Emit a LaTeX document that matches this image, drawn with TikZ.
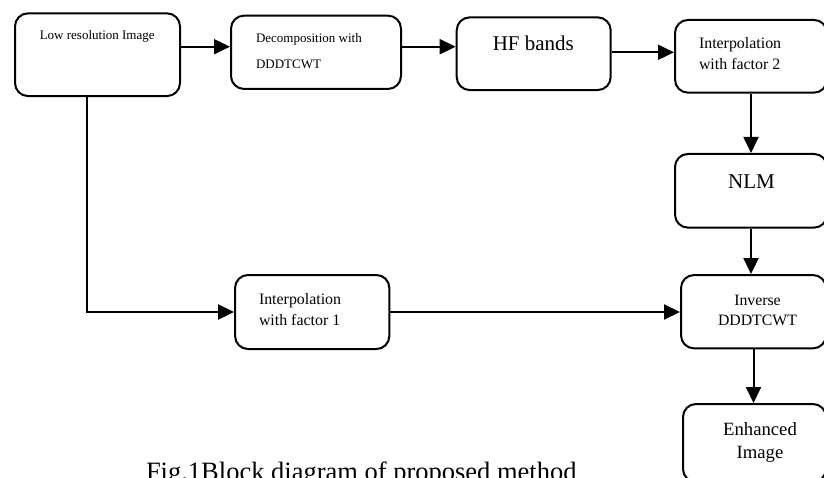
\documentclass[tikz,border=0pt]{standalone}
\usepackage{fontspec}
\setmainfont{Liberation Serif}
\usetikzlibrary{positioning, arrows.meta}

\begin{document}
\begin{tikzpicture}[x = 1pt, y = -1pt, line width = 2pt,
        block/.style = {shape = rectangle, draw = black, rounded corners = 13pt, inner sep = 0pt},
        txt/.style = {inner sep = 0pt, anchor = base, align = center},
        txtl/.style = {inner sep = 0pt, anchor = base west, align = left},
        >={Triangle[length = 16pt, width = 15pt]}]
    \useasboundingbox (0, 0) rectangle (824, 477);
    \clip (0, 0) rectangle (824, 477);

    % boxes
    \node [block, minimum width = 165pt, minimum height = 82.7pt] (lowres) at (97.5, 54.7) {};
    \node [block, minimum width = 170pt, minimum height = 73.3pt] (decomp) at (316, 52.3) {};
    \node [block, minimum width = 154pt, minimum height = 72.7pt] (hf) at (533.7, 53.7) {};
    \node [block, minimum width = 152pt, minimum height = 72.7pt] (interpB) at (751, 56.3) {};
    \node [block, minimum width = 152pt, minimum height = 73.7pt] (nlm) at (751, 190.8) {};
    \node [block, minimum width = 145pt, minimum height = 73.3pt] (inverse) at (753.5, 311.7) {};
    \node [block, minimum width = 143pt, minimum height = 78pt] (enhanced) at (754.5, 443) {};
    \node [block, minimum width = 154.3pt, minimum height = 74pt] (interpA) at (312.2, 312) {};

    % texts (multi-line ones sit on their last line)
    \node [txt, font = \fontsize{13}{26}\selectfont] (lowres-t) at (97.2, 39.3) {Low resolution Image};
    \node [txtl, font = \fontsize{13}{26}\selectfont] (decomp-t) at (255, 68.3) {Decomposition with\\DDDTCWT};
    \node [txt, font = \fontsize{21}{25}\selectfont] (hf-t) at (533.3, 50.7) {HF bands};
    \node [txtl, font = \fontsize{15.9}{20.7}\selectfont] (interpB-t) at (698, 69) {Interpolation\\with factor 2};
    \node [txt, font = \fontsize{21}{25}\selectfont] (nlm-t) at (751.5, 188.3) {NLM};
    \node [txt, font = \fontsize{15.8}{20}\selectfont] (inverse-t) at (757.5, 325) {Inverse\\DDDTCWT};
    \node [txt, font = \fontsize{18.7}{22.6}\selectfont] (enhanced-t) at (760, 458.3) {Enhanced\\Image};
    \node [txtl, font = \fontsize{15.9}{20.7}\selectfont] (interpA-t) at (258, 325) {Interpolation\\with factor 1};
    \node [txtl, font = \fontsize{26.5}{30}\selectfont] (caption) at (145, 480.8) {Fig.1Block diagram of proposed method};

    % arrows
    \draw [->] ([yshift = 8pt]lowres.east) -- ([yshift = 8pt]lowres.east -| decomp.west);
    \draw [->] ([yshift = 5.6pt]decomp.east) -- ([yshift = 5.6pt]decomp.east -| hf.west);
    \draw [->] ([yshift = 1.4pt]hf.east) -- ([yshift = 1.4pt]hf.east -| interpB.west);
    \draw [->] (interpB.south) -- (nlm.north);
    \draw [->] (nlm.south) -- (nlm.south |- inverse.north);
    \draw [->] (inverse.south) -- (inverse.south |- enhanced.north);
    \draw [->] ([xshift = -11pt]lowres.south) |- (interpA.west);
    \draw [->] (interpA.east) -- (interpA.east -| inverse.west);
\end{tikzpicture}
\end{document}
